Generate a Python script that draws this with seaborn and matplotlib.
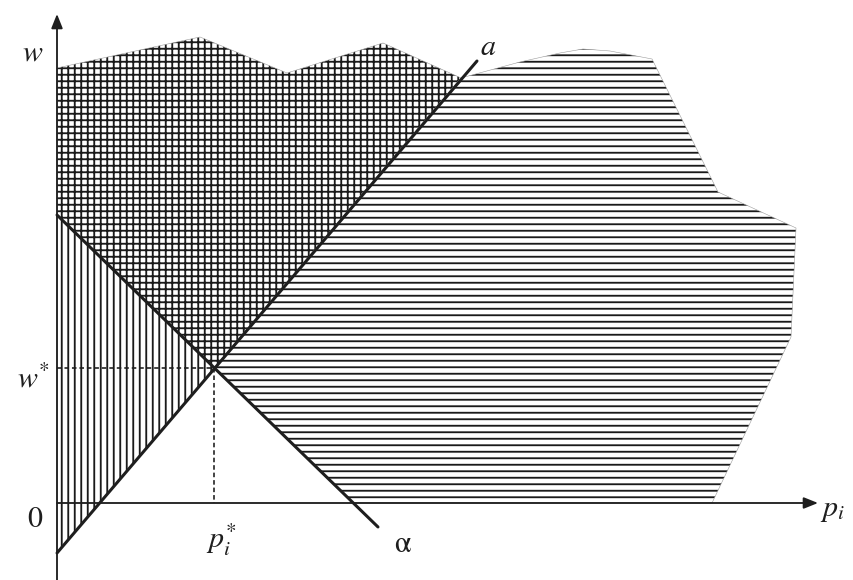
import matplotlib
matplotlib.use("Agg")
import matplotlib.pyplot as plt
import pandas as pd
import seaborn as sns

# Equilibrium point
p_star = 1.57
w_star = 1.35

# Line a (rising) and line α (falling): end points
a_p = [0.0, 4.20]
a_w = [-0.50, 4.42]
alpha_p = [0.0, 3.21]
alpha_w = [2.88, -0.24]

# Region boundaries
cross_p = [0.0, 0.0, 1.43, 2.30, 3.26, 4.04, p_star]
cross_w = [2.88, 4.35, 4.66, 4.30, 4.60, 4.25, w_star]
horiz_p = [p_star, 4.04, 4.63, 5.03, 5.26, 5.53, 5.95, 6.61, 7.39, 7.34, 6.55, 2.955]
horiz_w = [w_star, 4.25, 4.41, 4.50, 4.54, 4.52, 4.44, 3.11, 2.75, 1.66, 0.0, 0.0]
vert_p = [0.0, p_star, 0.0]
vert_w = [2.88, w_star, -0.50]

# Axis extents
x_axis_end = 7.61
y_axis_end = 4.89

DPI = 78
sns.set_theme(style="white")
plt.rcParams["mathtext.fontset"] = "stix"
plt.rcParams["hatch.linewidth"] = 1.7
plt.rcParams["hatch.color"] = "#1a1a1a"

fig = plt.figure(figsize=(853.01 / DPI, 580.01 / DPI), dpi=DPI)
ax = fig.add_axes([0, 0, 1, 1])
ax.set_xlim(-0.57, 7.96)
ax.set_ylim(-0.77, 5.03)
ax.set_axis_off()

ink = "#1e1e1e"

# Hatched regions
for px, pw, hatch in [(cross_p, cross_w, "++"),
                      (horiz_p, horiz_w, "--"),
                      (vert_p, vert_w, "||")]:
    ax.fill(px, pw, facecolor="white", edgecolor="#1a1a1a", hatch=hatch,
            linewidth=0, zorder=1)
    ax.plot(px + [px[0]], pw + [pw[0]], color="#9a9a9a", lw=0.5, zorder=1.5)

# Dashed guides to the equilibrium
dash = (0, (2.8, 1.8))
ax.plot([0, p_star], [w_star, w_star], color=ink, lw=1.5, linestyle=dash, zorder=2)
ax.plot([p_star, p_star], [w_star, 0], color=ink, lw=1.5, linestyle=dash, zorder=2)

# Lines a and α
lines = pd.DataFrame({
    "p": a_p + alpha_p,
    "w": a_w + alpha_w,
    "line": ["a", "a", "α", "α"],
})
sns.lineplot(data=lines, x="p", y="w", units="line", estimator=None,
             color=ink, lw=2.8, ax=ax, zorder=3, legend=False)
ax.set_axis_off()

# Coordinate axes with arrowheads
arrow = dict(arrowstyle="-|>,head_length=0.55,head_width=0.22", color=ink,
             lw=1.7, mutation_scale=20, shrinkA=0, shrinkB=0)
ax.annotate("", xy=(x_axis_end, 0), xytext=(0, 0), arrowprops=arrow, zorder=4)
ax.annotate("", xy=(0, y_axis_end), xytext=(0, -0.77), arrowprops=arrow, zorder=4)

# Labels
fs = 30 * 72 / DPI
txt = dict(color=ink, fontsize=fs, va="baseline", zorder=5)
ax.text(-0.24, 4.43, r"$w$", ha="center", **txt)
ax.text(-0.07, 1.16, r"$w^{*}$", ha="right", **txt)
ax.text(-0.22, -0.24, "0", ha="center", family="STIXGeneral", **txt)
ax.text(1.64, -0.45, r"$p_i^{*}$", ha="center", **txt)
ax.text(3.45, -0.49, "α", ha="center", family="STIXGeneral", **txt)
ax.text(4.31, 4.48, r"$a$", ha="center", **txt)
ax.text(7.75, -0.13, r"$p_i$", ha="center", **txt)

fig.savefig("out.png", dpi=DPI, facecolor="white")
